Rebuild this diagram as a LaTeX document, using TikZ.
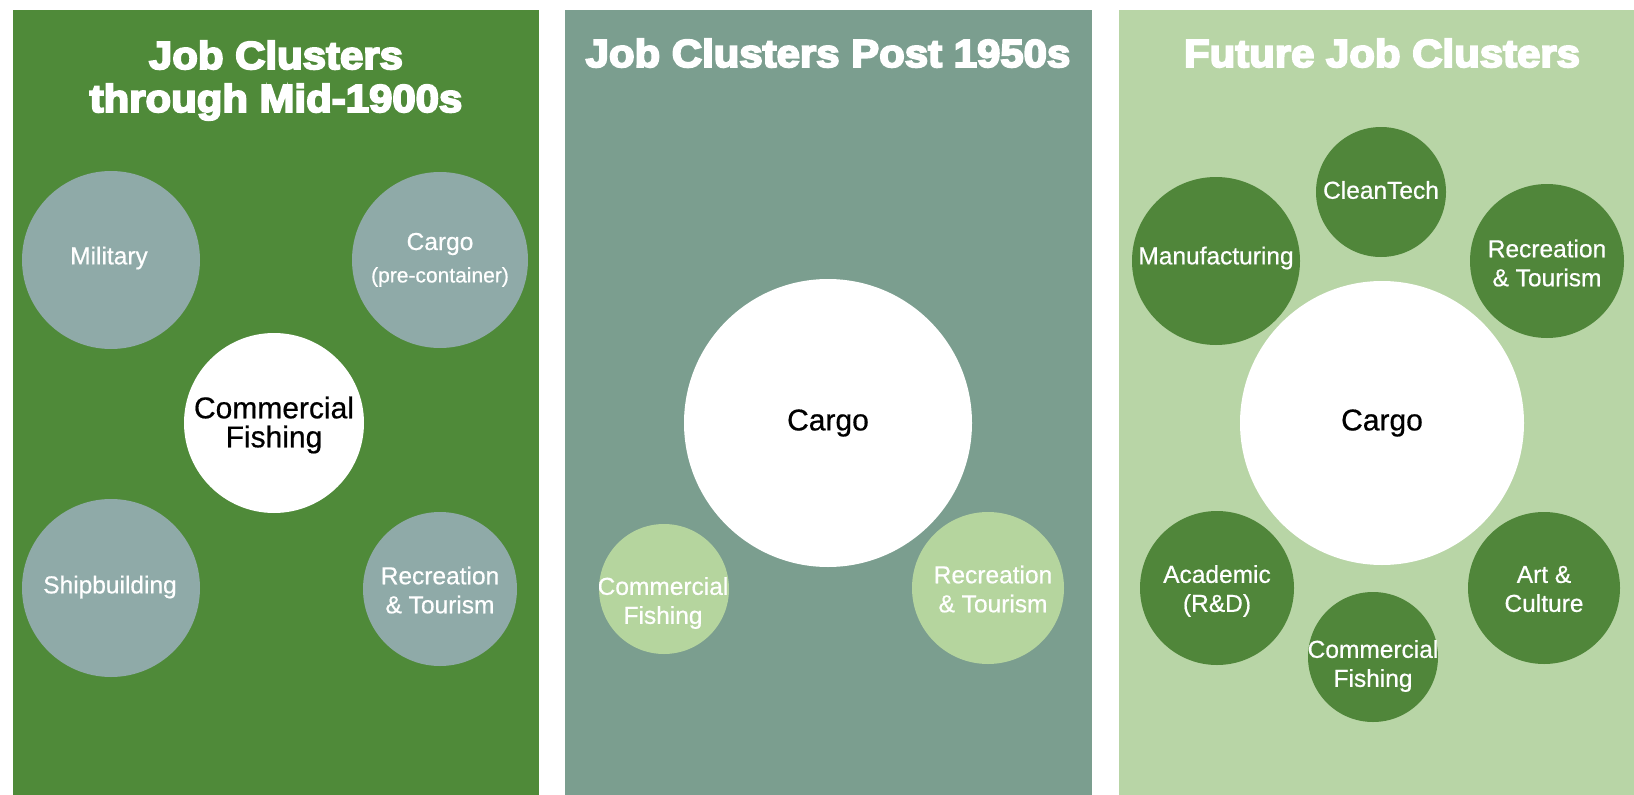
\documentclass[tikz,border=0pt]{standalone}
\usepackage{fontspec}
\setmainfont{Liberation Sans}[FakeBold=0.6]
\newfontfamily\headfont[FakeBold=5,FakeStretch=1.075]{Liberation Sans Bold}
\definecolor{paneldark}{HTML}{4F8A39}
\definecolor{panelteal}{HTML}{7B9E8F}
\definecolor{panellight}{HTML}{B8D5A6}
\definecolor{bubblegrey}{HTML}{8FAAA8}
\definecolor{bubblelight}{HTML}{B5D59E}
\definecolor{bubblegreen}{HTML}{50863A}
\newcommand\labelsize{\fontsize{24.5}{29}\selectfont}
\newcommand\smallsize{\fontsize{21}{24}\selectfont}
\newcommand\coresize{\fontsize{30}{29}\selectfont}
\newcommand\headsize{\headfont\fontsize{39}{43}\selectfont}
\begin{document}
\begin{tikzpicture}[x=1pt,y=-1pt,
  bubble/.style={circle,inner sep=0pt,draw=none},
  lbl/.style={inner sep=0pt,align=center,text=white,font=\labelsize},
  corelbl/.style={inner sep=0pt,align=center,text=black,font=\coresize},
  head/.style={inner sep=0pt,anchor=base,text=white,font=\headsize}]
\useasboundingbox (0,0) rectangle (1634,795);
\fill[white] (0,0) rectangle (1634,795);

% three panels
\fill[paneldark]  (13,10)  rectangle (539,795);
\fill[panelteal]  (565,10) rectangle (1092,795);
\fill[panellight] (1119,10) rectangle (1634,795);

% panel titles
\node[head] (h1a) at (276,69)  {Job Clusters};
\node[head] (h1b) at (276,112) {through Mid-1900s};
\node[head] (h2)  at (828,67)  {Job Clusters Post 1950s};
\node[head] (h3)  at (1382,67) {Future Job Clusters};

% --- through mid-1900s
\node[bubble,fill=bubblegrey,minimum size=178] (mil)  at (111,260) {};
\node[bubble,fill=bubblegrey,minimum size=176] (cgo1) at (440,260) {};
\node[bubble,fill=white,minimum size=180]      (fsh1) at (274,423) {};
\node[bubble,fill=bubblegrey,minimum size=178] (shp)  at (111,588) {};
\node[bubble,fill=bubblegrey,minimum size=154] (rec1) at (440,589) {};
\node[lbl] (milT)  at (109,258) {Military};
\node[lbl] (cgo1T) at (440,244) {Cargo};
\node[lbl,font=\smallsize] (cgo1S) at (440,277) {(pre-container)};
\node[corelbl] (fsh1T) at (274,425) {Commercial\\Fishing};
\node[lbl] (shpT)  at (110,587) {Shipbuilding};
\node[lbl] (rec1T) at (440,590) {Recreation\\\& Tourism};

% --- post 1950s
\node[bubble,fill=white,minimum size=288]       (cgo2) at (828,423) {};
\node[bubble,fill=bubblelight,minimum size=130] (fsh2) at (664,589) {};
\node[bubble,fill=bubblelight,minimum size=152] (rec2) at (988,588) {};
\node[corelbl] (cgo2T) at (828,423) {Cargo};
\begin{scope}
  \clip (fsh2.center) circle[radius=65];
  \node[lbl] (fsh2T) at (663,603) {Commercial\\Fishing};
\end{scope}
\node[lbl] (rec2T) at (993,589) {Recreation\\\& Tourism};

% --- future
\node[bubble,fill=white,minimum size=284]       (cgo3) at (1382,423) {};
\node[bubble,fill=bubblegreen,minimum size=130] (cln)  at (1381,192) {};
\node[bubble,fill=bubblegreen,minimum size=168] (man)  at (1216,261) {};
\node[bubble,fill=bubblegreen,minimum size=154] (rec3) at (1547,261) {};
\node[bubble,fill=bubblegreen,minimum size=154] (acd)  at (1217,588) {};
\node[bubble,fill=bubblegreen,minimum size=152] (art)  at (1544,588) {};
\node[bubble,fill=bubblegreen,minimum size=130] (fsh3) at (1373,657) {};
\node[corelbl] (cgo3T) at (1382,423) {Cargo};
\node[lbl] (clnT)  at (1381,190) {CleanTech};
\node[lbl] (manT)  at (1216,258) {Manufacturing};
\node[lbl] (rec3T) at (1547,263) {Recreation\\\& Tourism};
\node[lbl] (acdT)  at (1217,591) {Academic\\(R\&D)};
\node[lbl] (artT)  at (1544,589) {Art \&\\Culture};
\node[lbl] (fsh3T) at (1373,666) {Commercial\\Fishing};
\end{tikzpicture}
\end{document}
